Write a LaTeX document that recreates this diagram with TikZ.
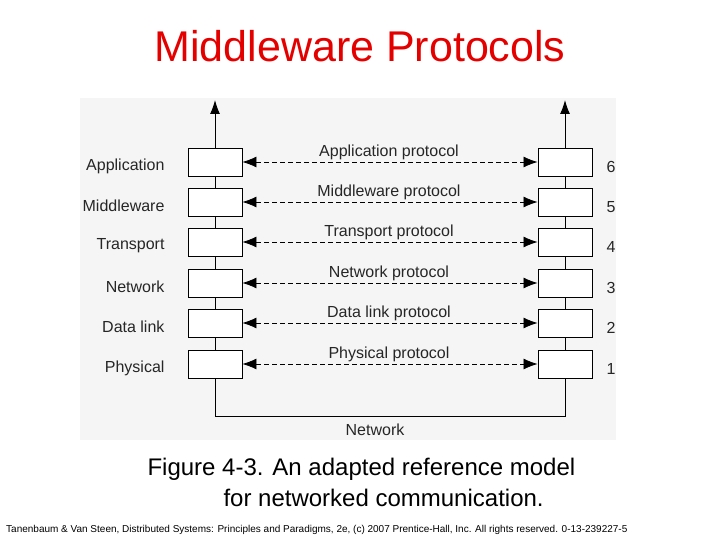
\documentclass[tikz,border=0pt]{standalone}
\usepackage{fontspec}
\setmainfont{Liberation Sans}
\usetikzlibrary{arrows.meta}
\begin{document}
\begin{tikzpicture}[x=1pt,y=-1pt,
  box/.style={draw,fill=white,minimum width=54pt,minimum height=28pt,inner sep=0pt,line width=0.9pt},
  lab/.style={font=\fontsize{16}{16}\selectfont,text=black!85},
  proto/.style={draw,dash pattern=on 5pt off 3pt,line width=0.7pt,{Latex[length=14pt,width=11pt]}-{Latex[length=14pt,width=11pt]}},
  flow/.style={line width=1pt}]
\useasboundingbox (0,0) rectangle (720,540);
\fill[black!4] (80,98) rectangle (616,440);
\node[font=\fontsize{43}{43}\selectfont,text=red!90!black] (title) at (360,46) {Middleware Protocols};
\foreach \i/\n/\y/\name in {6/a/162/Application,5/m/202/Middleware,4/t/242/Transport,3/n/283/Network,2/d/323/Data link,1/p/364/Physical}{
  \node[lab,anchor=east] (L\n) at (168,\y+4) {\name};
  \node[lab,anchor=west] (N\n) at (603,\y+5) {\i};
}
\coordinate (ltop) at (215,100);
\coordinate (rtop) at (565,100);
\coordinate (lbot) at (215,416);
\coordinate (rbot) at (565,416);
\draw[flow,-{Latex[length=14pt,width=10pt]}] (lbot) -- (ltop);
\draw[flow,-{Latex[length=14pt,width=10pt]}] (lbot) -- (rbot) -- (rtop);
\foreach \n/\y/\p in {a/162/Application protocol,m/202/Middleware protocol,t/242/Transport protocol,n/283/Network protocol,d/323/Data link protocol,p/364/Physical protocol}{
  \node[box] (l\n) at (215,\y) {};
  \node[box] (r\n) at (565,\y) {};
  \draw[proto] (l\n.east) -- (r\n.west);
  \node[lab] (P\n) at (389,\y-10) {\p};
}
\node[lab] (net) at (375,430) {Network};
\node[font=\fontsize{24}{24}\selectfont,anchor=west] (cap1) at (144,469) {Figure 4-3. An adapted reference model};
\node[font=\fontsize{24}{24}\selectfont,anchor=west] (cap2) at (220,498) {for networked communication.};
\node[font=\fontsize{10}{10}\selectfont,anchor=west,inner sep=0pt] (foot) at (6,530) {Tanenbaum \& Van Steen, Distributed Systems: Principles and Paradigms, 2e, (c) 2007 Prentice-Hall, Inc. All rights reserved. 0-13-239227-5};
\end{tikzpicture}
\end{document}
